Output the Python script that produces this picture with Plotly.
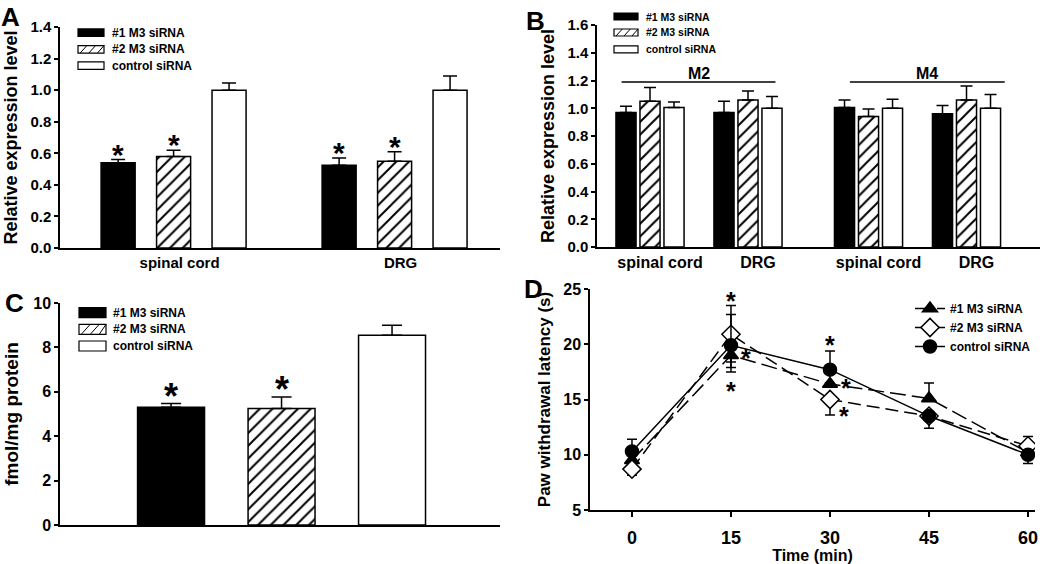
import plotly.graph_objects as go

FONT = "Liberation Sans, Arial, sans-serif"
W, H = 1050, 564

# ---------------- data ----------------
series_names = ["#1 M3 siRNA", "#2 M3 siRNA", "control siRNA"]

# A - M3 mRNA
a_tissues = ["spinal cord", "DRG"]
a_m3_1 = [0.54, 0.525]
a_m3_1_sem = [0.02, 0.045]
a_m3_2 = [0.58, 0.55]
a_m3_2_sem = [0.04, 0.06]
a_ctrl = [1.0, 1.0]
a_ctrl_sem = [0.045, 0.09]

# B - M2 / M4 mRNA
b_receptors = ["M2", "M4"]
b_tissues = ["spinal cord", "DRG", "spinal cord", "DRG"]
b_m3_1 = [0.97, 0.97, 1.005, 0.96]
b_m3_1_sem = [0.045, 0.08, 0.055, 0.06]
b_m3_2 = [1.05, 1.06, 0.94, 1.06]
b_m3_2_sem = [0.10, 0.065, 0.055, 0.10]
b_ctrl = [1.005, 1.0, 1.0, 1.0]
b_ctrl_sem = [0.04, 0.085, 0.065, 0.10]

# C - binding
c_values = [5.3, 5.25, 8.55]
c_sem = [0.17, 0.52, 0.45]

# D - paw withdrawal latency
d_time = [0, 15, 30, 45, 60]
d_m3_1 = [9.5, 19.0, 16.4, 15.1, 10.2]
d_m3_1_up = [0, 0, 0, 1.4, 0]
d_m3_1_dn = [0, 1.5, 0, 0, 0]
d_m3_2 = [8.7, 20.9, 15.0, 13.5, 10.8]
d_m3_2_up = [0, 2.6, 0, 0, 0.85]
d_m3_2_dn = [0.55, 2.5, 1.4, 0, 0]
d_ctrl = [10.3, 19.9, 17.7, 13.5, 10.0]
d_ctrl_up = [1.1, 2.8, 1.7, 0, 0]
d_ctrl_dn = [0, 2.0, 0, 1.1, 0.8]


def px(x):
    return x / W


def py(y):
    return 1 - y / H


def bold(size):
    return dict(family=FONT, size=size, color="black", weight="bold")


solid = dict(color="black", line=dict(color="black", width=1.5))
hatch = dict(color="white", line=dict(color="black", width=1.5),
             pattern=dict(shape="/", fgcolor="black", bgcolor="white", size=9, solidity=0.22))
empty = dict(color="white", line=dict(color="black", width=1.5))
bar_styles = [solid, hatch, empty]

fig = go.Figure()
annotations = []
shapes = []


def err(vals, cap):
    return dict(type="data", array=vals, arrayminus=[0] * len(vals), symmetric=False,
                color="black", thickness=1.5, width=cap)


# ---- A ----
a_sets = [(a_m3_1, a_m3_1_sem), (a_m3_2, a_m3_2_sem), (a_ctrl, a_ctrl_sem)]
a_w, a_step = 0.154, 0.251
for i, (v, s) in enumerate(a_sets):
    fig.add_trace(go.Bar(x=a_tissues, y=v, name=series_names[i], marker=bar_styles[i],
                         width=a_w, offset=(i - 1) * a_step - a_w / 2,
                         error_y=err(s, 7), xaxis="x", yaxis="y", showlegend=False))
for i, (v, s) in enumerate(a_sets[:2]):
    for j, t in enumerate(a_tissues):
        annotations.append(dict(x=t, y=v[j] + s[j], xref="x", yref="y", text="*",
                                showarrow=False, font=bold(30), yanchor="bottom",
                                xshift=(i - 1) * a_step * 221, yshift=-13))

# ---- B ----
b_pos = [0, 1, 2.23, 3.23]
b_sets = [(b_m3_1, b_m3_1_sem), (b_m3_2, b_m3_2_sem), (b_ctrl, b_ctrl_sem)]
b_w, b_step = 0.205, 0.245
for i, (v, s) in enumerate(b_sets):
    fig.add_trace(go.Bar(x=b_pos, y=v, name=series_names[i], marker=bar_styles[i],
                         width=b_w, offset=(i - 1) * b_step - b_w / 2,
                         error_y=err(s, 6), xaxis="x2", yaxis="y2", showlegend=False))
for k, rec in enumerate(b_receptors):
    x0 = b_pos[2 * k] - (0.29 if k == 0 else 0.19)
    x1 = b_pos[2 * k + 1] + (0.28 if k == 0 else 0.39)
    shapes.append(dict(type="line", xref="x2", yref="y2", x0=x0, x1=x1, y0=1.19, y1=1.19,
                       line=dict(color="black", width=1.5)))
    annotations.append(dict(x=(x0 + x1) / 2, y=1.19, xref="x2", yref="y2", text=rec,
                            showarrow=False, font=bold(16), yanchor="bottom", yshift=-2))

# ---- C ----
c_pos = [0, 1, 2]
c_w = 0.606
for i in range(3):
    fig.add_trace(go.Bar(x=[c_pos[i]], y=[c_values[i]], name=series_names[i], marker=bar_styles[i],
                         width=c_w, offset=-c_w / 2, error_y=err([c_sem[i]], 10),
                         xaxis="x3", yaxis="y3", showlegend=False))
for i in range(2):
    annotations.append(dict(x=c_pos[i], y=c_values[i] + c_sem[i], xref="x3", yref="y3", text="*",
                            showarrow=False, font=bold(36), yanchor="bottom", yshift=-15))

# ---- D ----
d_sets = [
    (d_m3_1, d_m3_1_up, d_m3_1_dn, "triangle-up", "black", "16px,6px"),
    (d_m3_2, d_m3_2_up, d_m3_2_dn, "diamond", "white", "13px,6px"),
    (d_ctrl, d_ctrl_up, d_ctrl_dn, "circle", "black", "solid"),
]
for i, (v, up, dn, sym, fill, dash) in enumerate(d_sets):
    fig.add_trace(go.Scatter(
        x=d_time, y=v, name=series_names[i], mode="lines+markers",
        line=dict(color="black", width=1.5, dash=dash),
        marker=dict(symbol=sym, size=13 if sym != "diamond" else 14, color=fill,
                    line=dict(color="black", width=1.5)),
        error_y=dict(type="data", array=up, arrayminus=dn, symmetric=False,
                     color="black", thickness=1.5, width=5),
        xaxis="x4", yaxis="y4"))

d_stars = [
    (d_time[1], d_m3_2[1] + d_m3_2_up[1] + 0.9),
    (d_time[1] + 2.2, d_m3_1[1] + 0.2),
    (d_time[1], d_m3_1[1] - d_m3_1_dn[1] - 1.3),
    (d_time[2], d_ctrl[2] + d_ctrl_up[2] + 1.0),
    (d_time[2] + 2.4, d_m3_1[2] + 0.1),
    (d_time[2] + 2.1, d_m3_2[2] - 1.0),
]
for sx, sy in d_stars:
    annotations.append(dict(x=sx, y=sy, xref="x4", yref="y4", text="*", showarrow=False,
                            font=bold(25), yanchor="middle", yshift=-5))


# ---- custom bar legends (A, B, C) ----
def bar_legend(x0, x1, rows, h, size, tx):
    for i, yc in enumerate(rows):
        y0, y1 = py(yc + h / 2), py(yc - h / 2)
        fillc = "black" if i == 0 else "white"
        shapes.append(dict(type="rect", xref="paper", yref="paper", x0=px(x0), x1=px(x1),
                           y0=y0, y1=y1, fillcolor=fillc, line=dict(color="black", width=1.2)))
        if i == 1:
            n = 3
            seg = (x1 - x0) / n
            path = ""
            for k in range(n):
                xa = x0 + k * seg + seg * 0.25
                xb = xa + h * 0.9
                path += f"M{px(xa)},{y0} L{px(min(xb, x1))},{y1} "
            shapes.append(dict(type="path", xref="paper", yref="paper", path=path,
                               line=dict(color="black", width=1)))
        annotations.append(dict(x=px(tx), y=py(yc), xref="paper", yref="paper",
                                text=series_names[i], showarrow=False, font=bold(size),
                                xanchor="left", yanchor="middle"))


bar_legend(78, 104, [32.7, 49.3, 65.7], 7.5, 12, 110)
bar_legend(614, 638, [16.5, 32.5, 49.3], 7, 10.5, 644)
bar_legend(79, 106, [312.7, 329.3, 346], 10, 12, 111)

# panel letters
for letter, lx, top in [("A", 10, 0), ("B", 535, 4), ("C", 14, 286), ("D", 533, 272)]:
    annotations.append(dict(x=px(lx), y=py(top), xref="paper", yref="paper", text=letter,
                            showarrow=False, font=bold(26), xanchor="center", yanchor="top"))

axis_common = dict(showline=True, linecolor="black", linewidth=1.5, showgrid=False,
                   zeroline=False, tickfont=bold(15), ticks="outside", ticklen=4,
                   tickwidth=1.5, tickcolor="black", automargin=False)

fig.update_layout(
    template="none",
    width=W, height=H, margin=dict(l=0, r=0, t=0, b=0, autoexpand=False),
    paper_bgcolor="white", plot_bgcolor="white", barmode="overlay",
    font=dict(family=FONT, color="black"),
    xaxis=dict(domain=[px(60), px(500)], anchor="y", range=[-0.514, 1.477],
               **{**axis_common, "ticks": "", "ticklabelshift": 6}),
    yaxis=dict(domain=[py(248), py(27)], anchor="x", range=[0, 1.4], dtick=0.2,
               tickformat=".1f", title=dict(text="Relative expression level", font=bold(18),
                                            standoff=8), **axis_common),
    xaxis2=dict(domain=[px(597), px(1040)], anchor="y2", range=[-0.541, 3.98],
                tickvals=b_pos, ticktext=b_tissues,
                **{**axis_common, "ticks": "", "tickfont": bold(16), "ticklabelshift": 10}),
    yaxis2=dict(domain=[py(247), py(25)], anchor="x2", range=[0, 1.6], dtick=0.2,
                tickformat=".1f", title=dict(text="Relative expression level", font=bold(18),
                                             standoff=8), **axis_common),
    xaxis3=dict(domain=[px(60), px(500)], anchor="y3", range=[-1.005, 2.977],
                showticklabels=False, **{**axis_common, "ticks": ""}),
    yaxis3=dict(domain=[py(525), py(303)], anchor="x3", range=[0, 10], dtick=2,
                title=dict(text="fmol/mg protein", font=bold(19), standoff=10),
                **{**axis_common, "tickfont": bold(16)}),
    xaxis4=dict(domain=[px(590), px(1035)], anchor="y4", range=[-6.36, 61.06],
                tickvals=d_time, title=dict(text="Time (min)", font=bold(16), standoff=2),
                **{**axis_common, "tickfont": bold(18), "ticklen": 5,
                   "ticklabelstandoff": 6}),
    yaxis4=dict(domain=[py(510), py(289)], anchor="x4", range=[5, 25], dtick=5,
                title=dict(text="Paw withdrawal latency (s)", font=bold(17), standoff=8),
                **{**axis_common, "tickfont": bold(16)}),
    legend=dict(x=px(910), y=py(294), xanchor="left", yanchor="top", font=bold(12),
                bgcolor="rgba(0,0,0,0)", tracegroupgap=0, itemwidth=30),
    annotations=annotations,
    shapes=shapes,
)

fig.write_html("out.html", config={"displayModeBar": False},
               post_script="document.body.style.margin='0';")
